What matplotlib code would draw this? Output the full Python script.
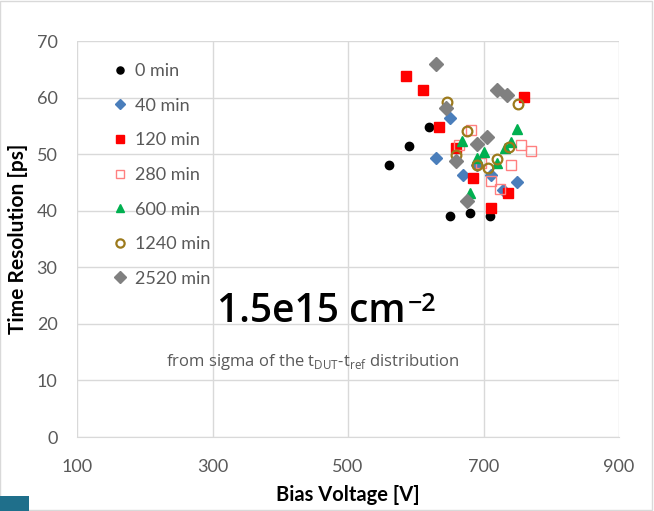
import matplotlib
matplotlib.use('Agg')
from matplotlib import pyplot as plt
from matplotlib.patches import Rectangle

plt.rcParams['font.family'] = ['Lato', 'DejaVu Sans']
plt.rcParams['mathtext.fontset'] = 'custom'
plt.rcParams['mathtext.rm'] = 'Open Sans'

# (bias voltage [V], time resolution [ps]) per annealing time
V_0 = [560, 590, 620, 650, 680, 710]
T_0 = [48.1, 51.4, 54.8, 39.0, 39.6, 39.0]

V_40 = [650, 630, 670, 691, 711, 729, 750]
T_40 = [56.4, 49.4, 46.3, 48.1, 46.4, 43.6, 45.1]

V_120 = [586, 611, 635, 660, 685, 711, 736, 760]
T_120 = [63.8, 61.4, 54.8, 51.0, 45.7, 40.4, 43.2, 60.1]

V_280 = [682, 664, 697, 711, 724, 741, 756, 770]
T_280 = [54.2, 51.6, 48.4, 45.3, 43.8, 48.0, 51.7, 50.5]

V_600 = [669, 700, 690, 680, 720, 731, 741, 750]
T_600 = [52.4, 50.4, 49.4, 43.1, 48.5, 51.0, 52.2, 54.4]

V_1240 = [646, 675, 660, 691, 706, 720, 737, 751]
T_1240 = [59.2, 54.1, 49.8, 48.1, 47.5, 49.2, 51.3, 58.8]

V_2520 = [630, 645, 660, 690, 705, 675, 720, 735]
T_2520 = [66.0, 58.2, 48.8, 51.8, 53.0, 41.8, 61.4, 60.4]

LABELS = ['0 min', '40 min', '120 min', '280 min', '600 min', '1240 min', '2520 min']

X_TICKS = [100, 300, 500, 700, 900]
Y_TICKS = [0, 10, 20, 30, 40, 50, 60, 70]


def main():
    fig = plt.figure(figsize=(6.54, 5.11), dpi=100)
    ax = fig.add_axes([77 / 654, 1 - 437 / 511, (619 - 77) / 654, (437 - 41) / 511])

    series = [
        (V_0, T_0, dict(marker='o', color='black', ms=6, mec='black')),
        (V_40, T_40, dict(marker='D', color='#4a7ebb', ms=6, mec='#4a7ebb')),
        (V_120, T_120, dict(marker='s', color='#ff0000', ms=6.5, mec='#ff0000')),
        (V_280, T_280, dict(marker='s', color='none', ms=6.5, mec='#ff8080', mew=1.0)),
        (V_600, T_600, dict(marker='^', color='#00b050', ms=7, mec='#00b050')),
        (V_1240, T_1240, dict(marker='o', color='none', ms=7, mec='#9c7a1c', mew=1.6)),
        (V_2520, T_2520, dict(marker='D', color='#808080', ms=7, mec='#808080')),
    ]
    handles = []
    for (v, t, style), lab in zip(series, LABELS):
        mfc = style.pop('color')
        h, = ax.plot(v, t, ls='none', mfc=mfc, label=lab, **style)
        handles.append(h)

    ax.set_xlim(100, 900)
    ax.set_ylim(0, 70)
    ax.set_xticks(X_TICKS)
    ax.set_yticks(Y_TICKS)
    ax.grid(True, color='#d9d9d9', lw=1)
    ax.set_axisbelow(True)
    for s in ['top', 'right', 'left']:
        ax.spines[s].set_visible(False)
    ax.spines['bottom'].set_color('#d9d9d9')
    ax.tick_params(length=0, labelsize=13, colors='#595959')
    ax.tick_params(axis='y', pad=14)
    ax.tick_params(axis='x', pad=16)

    ax.set_xlabel('Bias Voltage [V]', fontsize=14.5, fontweight='bold', labelpad=7)
    ax.set_ylabel('Time Resolution [ps]', fontsize=15, fontweight='bold', labelpad=6)

    ax.legend(handles=handles, loc='upper left', bbox_to_anchor=(0.04, 0.985),
              frameon=False, fontsize=13, labelcolor='#595959',
              handlelength=0.6, handletextpad=0.5, labelspacing=1.03,
              markerscale=0.85)

    t = ax.text(0.258, 0.290, '1.5e15 cm', transform=ax.transAxes, va='baseline',
                fontsize=28, fontweight='semibold', color='black', family=['Open Sans'])
    ax.annotate('\u22122', xy=(1, 1), xycoords=t, xytext=(1.5, 0),
                textcoords='offset points', ha='left', va='top',
                fontsize=18, fontweight='semibold', color='black', family=['Open Sans'])
    ax.text(0.165, 0.18, 'from sigma of the t$_{\\rm DUT}$-t$_{\\rm ref}$ distribution',
            transform=ax.transAxes, va='baseline', fontsize=12, color='#595959',
            family=['Open Sans'])

    # thin chart border and slide decoration
    fig.patches.append(Rectangle((0.0, 0.002), 0.997, 0.997, transform=fig.transFigure,
                                 fill=False, ec='#d9d9d9', lw=1))
    fig.patches.append(Rectangle((0.0, 0.0), 0.045, 0.03, transform=fig.transFigure,
                                 fc='#1f6f8b', ec='none'))

    fig.savefig('out.png', dpi=100)


if __name__ == '__main__':
    main()
